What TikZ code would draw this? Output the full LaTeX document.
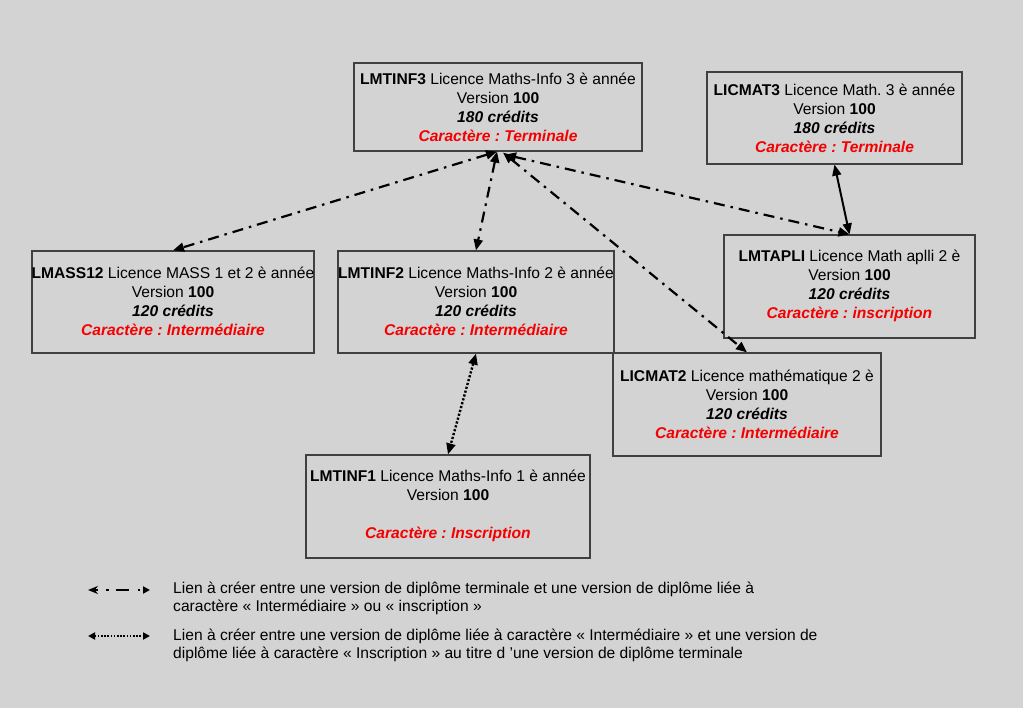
\documentclass[tikz,border=0pt]{standalone}
\usepackage{fontspec}
\setmainfont{Liberation Sans}
\usetikzlibrary{arrows.meta,calc}
\definecolor{bgc}{RGB}{211,211,211}
\definecolor{boxc}{RGB}{64,64,64}
\definecolor{redc}{RGB}{245,0,0}
\newcommand{\tl}[1]{\textbf{\textit{#1}}}
\newcommand{\rl}[1]{\textcolor{redc}{\textbf{\textit{#1}}}}
\frenchspacing
\begin{document}
\begin{tikzpicture}[x=1pt,y=-1pt,
  box/.style={draw=boxc,line width=1.2pt,inner sep=0pt},
  txt/.style={align=center,font=\fontsize{15.6}{19}\selectfont,inner sep=0pt},
  legtxt/.style={align=left,anchor=west,font=\fontsize{15.6}{18}\selectfont,inner sep=0pt},
  dda/.style={line width=2.2pt,dash pattern=on 11pt off 6pt on 2.5pt off 6pt,
    {Triangle[length=11pt,width=9pt]}-{Triangle[length=11pt,width=9pt]}},
  sola/.style={line width=2pt,{Triangle[length=11pt,width=9pt]}-{Triangle[length=11pt,width=9pt]}},
  dota/.style={line width=2.4pt,dash pattern=on 2.2pt off 1.8pt,
    {Triangle[length=11pt,width=9pt]}-{Triangle[length=11pt,width=9pt]}}
]
\path[fill=bgc] (0,0) rectangle (1023,708);
\useasboundingbox (0,0) rectangle (1023,708);

% boxes
\node[box,minimum width=288pt,minimum height=88pt] (inf3) at (498,107) {};
\node[box,minimum width=255pt,minimum height=92pt] (mat3) at (834.5,118) {};
\node[box,minimum width=282pt,minimum height=102pt] (mass) at (173,302) {};
\node[box,minimum width=276pt,minimum height=102pt] (inf2) at (476,302) {};
\node[box,minimum width=251pt,minimum height=103pt] (apli) at (849.5,286.5) {};
\node[box,minimum width=268pt,minimum height=103pt] (mat2) at (747,404.5) {};
\node[box,minimum width=284pt,minimum height=103pt] (inf1) at (448,506.5) {};

% texts
\node[txt] (inf3t) at (inf3) {\textbf{LMTINF3} Licence Maths-Info 3 è année\\Version \textbf{100}\\\tl{180 crédits}\\\rl{Caractère : Terminale}};
\node[txt] (mat3t) at (mat3) {\textbf{LICMAT3} Licence Math. 3 è année\\Version \textbf{100}\\\tl{180 crédits}\\\rl{Caractère : Terminale}};
\node[txt] (masst) at ([yshift=1pt]mass.center) {\textbf{LMASS12} Licence MASS 1 et 2 è année\\Version \textbf{100}\\\tl{120 crédits}\\\rl{Caractère : Intermédiaire}};
\node[txt] (inf2t) at ([yshift=1pt]inf2.center) {\textbf{LMTINF2} Licence Maths-Info 2 è année\\Version \textbf{100}\\\tl{120 crédits}\\\rl{Caractère : Intermédiaire}};
\node[txt] (aplit) at ([yshift=1pt]apli.center) {\textbf{LMTAPLI} Licence Math aplli 2 è\\Version \textbf{100}\\\tl{120 crédits}\\\rl{Caractère : inscription}};
\node[txt] (mat2t) at ([yshift=0.5pt]mat2.center) {\textbf{LICMAT2} Licence mathématique 2 è\\Version \textbf{100}\\\tl{120 crédits}\\\rl{Caractère : Intermédiaire}};
\node[txt] (inf1t) at ([yshift=1pt]inf1.center) {\textbf{LMTINF1} Licence Maths-Info 1 è année\\Version \textbf{100}\\[19pt]\rl{Caractère : Inscription}};

% connectors
\draw[dda] ([xshift=-1pt]inf3.south) -- (mass.north);
\draw[dda] ([xshift=-1pt]inf3.south) -- (inf2.north);
\draw[dda] ([xshift=5pt,yshift=-1pt]inf3.south) -- (mat2.north);
\draw[dda] ([xshift=7pt,yshift=-3pt]inf3.south) -- (apli.north);
\draw[sola] (mat3.south) -- (apli.north);
\draw[dota] (inf2.south) -- (inf1.north);

% legend
\coordinate (l1a) at (88,590);
\coordinate (l1b) at (150,590);
\coordinate (l2a) at (88,636);
\coordinate (l2b) at (150,636);
\draw[line width=2pt,dash pattern=on 0pt off 18pt on 2.5pt off 7pt on 13pt off 9pt on 2.5pt off 60pt] (l1a) -- (l1b);
\draw[line width=2pt,-{Stealth[length=10pt,width=8pt]}] ($(l1a)+(10,0)$) -- (l1a);
\draw[line width=2pt,-{Triangle[length=7pt,width=7pt]}] ($(l1b)+(-7,0)$) -- (l1b);
\draw[line width=2pt,dash pattern=on 1.6pt off 1.6pt,
  {Triangle[length=7pt,width=7pt]}-{Triangle[length=7pt,width=7pt]}] (l2a) -- (l2b);
\node[legtxt] (leg1) at (173,598.5) {Lien à créer entre une version de diplôme terminale et une version de diplôme liée à\\caractère « Intermédiaire » ou « inscription »};
\node[legtxt] (leg2) at (173,645.5) {Lien à créer entre une version de diplôme liée à caractère « Intermédiaire » et une version de\\diplôme liée à caractère « Inscription » au titre d ’une version de diplôme terminale};
\end{tikzpicture}
\end{document}
